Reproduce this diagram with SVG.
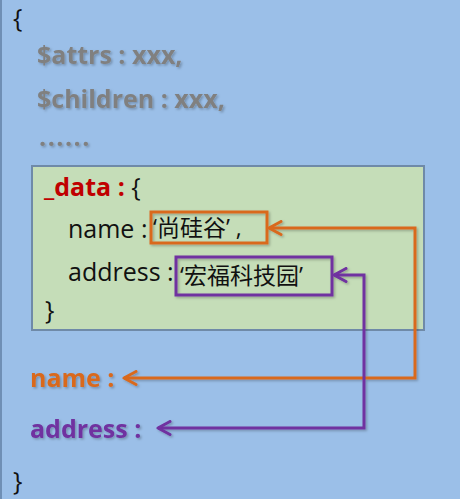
<svg xmlns="http://www.w3.org/2000/svg" width="460" height="499" viewBox="0 0 460 499">
<style>
.t{font-family:"Open Sans","Noto Sans CJK SC",sans-serif;font-size:25px}
.g{fill:#808080;font-weight:bold}
.k{fill:#111}
.cj{font-family:"Noto Sans CJK SC",sans-serif;font-size:23px;fill:#111}
.q{font-family:"Open Sans",sans-serif}
.sh{filter:url(#shadow)}
</style>
<defs>
<filter id="shadow" x="-10%" y="-10%" width="120%" height="130%">
<feDropShadow dx="1.5" dy="1.5" stdDeviation="1" flood-color="#000" flood-opacity="0.25"/>
</filter>
<marker id="ao" viewBox="0 0 16 16" refX="14" refY="8" markerWidth="16" markerHeight="16" markerUnits="userSpaceOnUse" orient="auto-start-reverse">
<polyline points="2,1.5 14,8 2,14.5" fill="none" stroke="#D9691E" stroke-width="3" stroke-linejoin="round" stroke-linecap="round"/>
</marker>
<marker id="ap" viewBox="0 0 16 16" refX="14" refY="8" markerWidth="16" markerHeight="16" markerUnits="userSpaceOnUse" orient="auto-start-reverse">
<polyline points="2,1.5 14,8 2,14.5" fill="none" stroke="#7030A0" stroke-width="3" stroke-linejoin="round" stroke-linecap="round"/>
</marker>
</defs>
<rect x="0" y="0" width="460" height="499" fill="#9BBFE8"/>
<line x1="1" y1="0" x2="1" y2="499" stroke="#6F8FB5" stroke-width="2"/>
<g id="outer">
<text class="t k" x="13" y="27">{</text>
<text class="t g sh" x="37" y="64">$attrs : xxx,</text>
<text class="t g sh" x="37" y="108">$children : xxx,</text>
<text class="t g sh" x="39" y="146" letter-spacing="1.5">......</text>
<text class="t k" x="13" y="490">}</text>
</g>
<g id="data">
<rect x="32" y="166" width="392" height="164" fill="#C5DDB8" stroke="#6F8AA8" stroke-width="2"/>
<text class="t" x="44" y="196"><tspan fill="#C00000" font-weight="bold">_data :</tspan><tspan fill="#111"> {</tspan></text>
<text class="t k" x="68" y="238">name :</text>
<text class="t k" x="68" y="281">address :</text>
<text class="t k" x="45" y="319">}</text>
</g>
<g id="name-value">
<rect class="sh" x="151" y="212" width="116" height="31" fill="none" stroke="#D9691E" stroke-width="3"/>
<text class="cj" x="153" y="236"><tspan class="q">‘</tspan>尚硅谷<tspan class="q">’ ,</tspan></text>
</g>
<g id="address-value">
<rect class="sh" x="176" y="257" width="156" height="38" fill="none" stroke="#7030A0" stroke-width="3"/>
<text class="cj" x="180" y="284"><tspan class="q">‘</tspan>宏福科技园<tspan class="q">’</tspan></text>
</g>
<g id="name-key">
<text class="t sh" x="30" y="387" fill="#D9691E" font-weight="bold">name :</text>
</g>
<g id="address-key">
<text class="t sh" x="30" y="438" fill="#7030A0" font-weight="bold">address :</text>
</g>
<g id="connectors" fill="none" stroke-width="3" class="sh">
<polyline points="269,228 415,228 415,378 124,378" stroke="#D9691E" marker-start="url(#ao)" marker-end="url(#ao)"/>
<polyline points="334,275 364,275 364,428 158,428" stroke="#7030A0" marker-start="url(#ap)" marker-end="url(#ap)"/>
</g>
</svg>
